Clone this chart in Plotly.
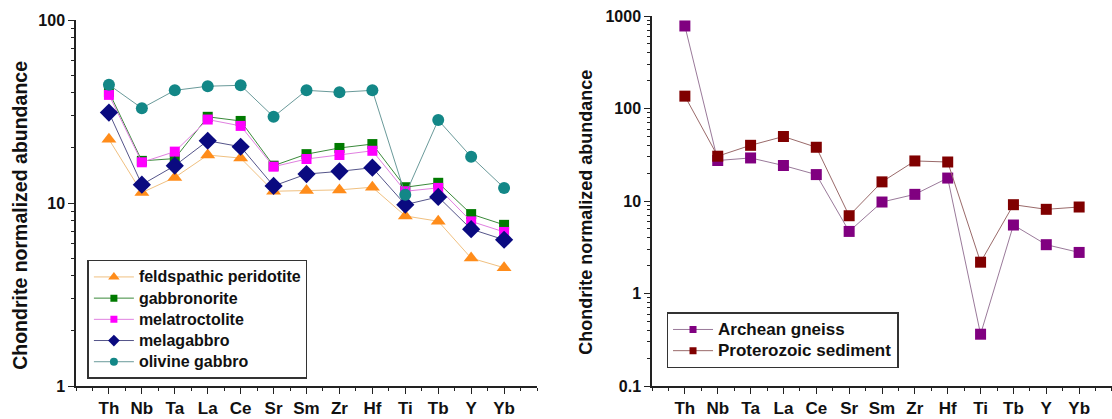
import plotly.graph_objects as go

elements = ["Th", "Nb", "Ta", "La", "Ce", "Sr", "Sm", "Zr", "Hf", "Ti", "Tb", "Y", "Yb"]

feldspathic_peridotite = [22.3, 11.4, 13.8, 18.3, 17.6, 11.6, 11.7, 11.8, 12.2, 8.5, 7.95, 5.0, 4.43]
gabbronorite = [40.5, 17.0, 17.5, 29.6, 28.1, 16.0, 18.5, 20.0, 21.0, 12.2, 12.9, 8.7, 7.6]
melatroctolite = [39.0, 16.7, 19.1, 28.6, 26.4, 15.8, 17.4, 18.3, 19.3, 11.6, 12.1, 7.94, 6.95]
melagabbro = [31.2, 12.6, 16.0, 21.9, 20.3, 12.4, 14.4, 14.9, 15.6, 9.8, 10.8, 7.2, 6.3]
olivine_gabbro = [44.3, 33.0, 41.3, 43.5, 44.0, 29.6, 41.3, 40.3, 41.3, 11.1, 28.4, 17.9, 12.1]

archean_gneiss = [780, 27.4, 29.2, 24.2, 19.3, 4.69, 9.75, 11.8, 17.7, 0.363, 5.5, 3.37, 2.78]
proterozoic_sediment = [136, 30.5, 40.0, 49.8, 38.1, 6.93, 16.1, 27.1, 26.4, 2.18, 9.12, 8.13, 8.61]

xs = list(range(len(elements)))

FONT = "Liberation Sans, Arial, sans-serif"

fig = go.Figure()

left_series = [
    ("feldspathic peridotite", feldspathic_peridotite, "#FF8C1A", "#F0C080", "triangle-up", 13, 10),
    ("gabbronorite", gabbronorite, "#007A00", "#3A8A3A", "square", 10, 7),
    ("melatroctolite", melatroctolite, "#FF00FF", "#E080E0", "square", 10, 7),
    ("melagabbro", melagabbro, "#0A0A80", "#55558A", "diamond", 14, 9),
    ("olivine gabbro", olivine_gabbro, "#138787", "#6A9A9A", "circle", 12, 8),
]
for name, vals, mc, lc, sym, sz, lsz in left_series:
    fig.add_trace(go.Scatter(
        x=xs, y=vals, name=name, mode="lines+markers",
        line=dict(color=lc, width=1),
        marker=dict(symbol=sym, size=sz, color=mc, line=dict(width=0)),
        xaxis="x", yaxis="y", showlegend=False,
    ))
for name, vals, mc, lc, sym, sz, lsz in left_series:
    fig.add_trace(go.Scatter(
        x=[None], y=[None], name=f'<span style="font-size:16px">{name}</span>', mode="lines+markers",
        line=dict(color=lc, width=1),
        marker=dict(symbol=sym, size=lsz, color=mc, line=dict(width=0)),
        xaxis="x", yaxis="y", legend="legend", showlegend=True,
    ))

right_series = [
    ("Archean gneiss", archean_gneiss, "#800080", "#9A7A9A"),
    ("Proterozoic sediment", proterozoic_sediment, "#800000", "#9A6A6A"),
]
for name, vals, mc, lc in right_series:
    fig.add_trace(go.Scatter(
        x=xs, y=vals, name=name, mode="lines+markers",
        line=dict(color=lc, width=1),
        marker=dict(symbol="square", size=11, color=mc, line=dict(width=0)),
        xaxis="x2", yaxis="y2", showlegend=False,
    ))
for name, vals, mc, lc in right_series:
    fig.add_trace(go.Scatter(
        x=[None], y=[None], name=f'<span style="font-size:17px">{name}</span>', mode="lines+markers",
        line=dict(color=lc, width=1),
        marker=dict(symbol="square", size=7, color=mc, line=dict(width=0)),
        xaxis="x2", yaxis="y2", legend="legend2", showlegend=True,
    ))

xcommon = dict(
    range=[-1, 13], tickmode="array", tickvals=xs, ticktext=elements,
    showline=True, linecolor="#222", linewidth=1.5, mirror=False,
    ticks="outside", ticklen=6, tickwidth=1.2, tickcolor="#222",
    minor=dict(ticks="outside", ticklen=3, tickwidth=1, tickcolor="#222", dtick=0.5, tick0=-1),
    showgrid=False, zeroline=False,
    tickfont=dict(family=FONT, size=17, color="#111", weight="bold"),
)
ycommon = dict(
    type="log", showline=True, linecolor="#222", linewidth=1.5, mirror=False,
    ticks="outside", ticklen=6, tickwidth=1.2, tickcolor="#222",
    minor=dict(ticks="outside", ticklen=3, tickwidth=1, tickcolor="#222", dtick="D1"),
    showgrid=False, zeroline=False,
    tickfont=dict(family=FONT, size=16, color="#111", weight="bold"),
)

fig.update_layout(
    width=1112, height=419,
    margin=dict(l=76, r=0, t=16, b=33),
    paper_bgcolor="white", plot_bgcolor="white",
    font=dict(family=FONT, color="#111"),
    xaxis=dict(domain=[0, 0.445], anchor="y", **xcommon),
    yaxis=dict(domain=[0, 0.989], anchor="x", range=[0, 2],
               tickvals=[1, 10, 100], ticktext=["1", "10", "100"], **ycommon),
    xaxis2=dict(domain=[0.556, 1.0], anchor="y2", **xcommon),
    yaxis2=dict(domain=[0, 1.0], anchor="x2", range=[-1, 3],
                tickvals=[0.1, 1, 10, 100, 1000], ticktext=["0.1", "1", "10", "100", "1000"], **ycommon),
    legend=dict(x=0.011, y=0.341, xanchor="left", yanchor="top",
                bordercolor="#333", borderwidth=1.5, bgcolor="white",
                font=dict(family=FONT, size=14, color="#111", weight="bold"),
                tracegroupgap=0, itemwidth=40),
    legend2=dict(x=0.570, y=0.199, xanchor="left", yanchor="top",
                 bordercolor="#333", borderwidth=1.5, bgcolor="white",
                 font=dict(family=FONT, size=14, color="#111", weight="bold"),
                 tracegroupgap=0, itemwidth=40),
    showlegend=True,
    annotations=[
        dict(text="Chondrite normalized abundance", textangle=-90, xref="paper", yref="paper",
             x=(20 - 76) / 1036, y=0.46, xanchor="center", yanchor="middle", showarrow=False,
             font=dict(family=FONT, size=19.5, color="#111", weight="bold")),
        dict(text="Chondrite normalized abundance", textangle=-90, xref="paper", yref="paper",
             x=(586 - 76) / 1036, y=0.468, xanchor="center", yanchor="middle", showarrow=False,
             font=dict(family=FONT, size=18, color="#111", weight="bold")),
    ],
)

fig.write_html("out.html", config={"displayModeBar": False},
               post_script="document.body.style.margin='0';document.body.style.overflow='hidden';")
